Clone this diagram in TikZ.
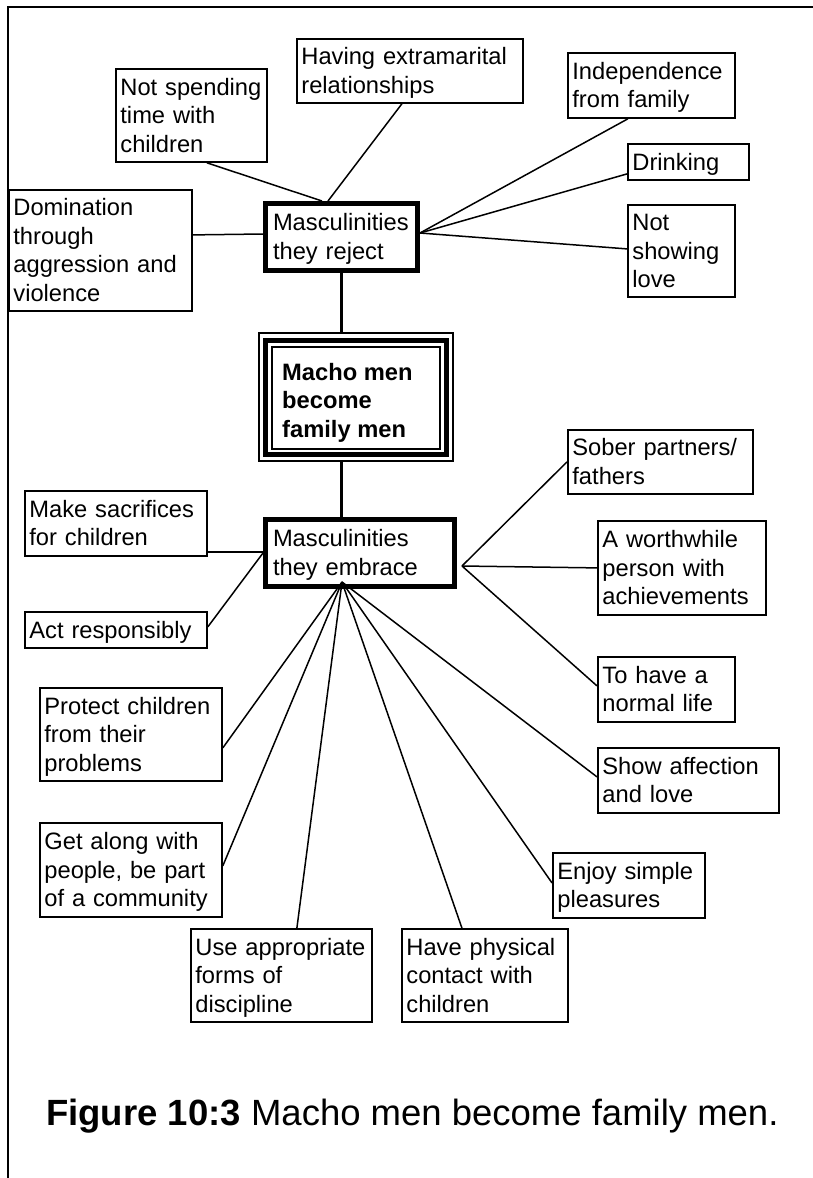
\documentclass[tikz,border=0pt]{standalone}
\usepackage{fontspec}
\setmainfont{Liberation Sans}
\newcommand\tb[1]{\vbox{\kern5pt\hbox{\begin{tabular}{@{}l@{}}#1\end{tabular}}}}
\begin{document}
\begin{tikzpicture}[x=1pt,y=-1pt,
  leaf/.style={draw, line width=1.8pt, anchor=north west, inner xsep=4.5pt, inner ysep=0pt, align=left, font=\fontsize{23.7}{28.5}\selectfont},
  hubbox/.style={leaf, line width=5pt, inner xsep=7.5pt},
  conn/.style={line width=1.5pt},
  spine/.style={line width=3.5pt},
  framebox/.style={line width=2pt}]
\useasboundingbox (0,0) rectangle (813,1178);
\draw[framebox] (813,7) -- (8,7) -- (8,1178);

% rejected
\node[leaf, minimum width=151pt, minimum height=93pt, text width=142pt] (spend) at (115,68) {\tb{Not spending\\time with\\children}};
\node[leaf, minimum width=226pt, minimum height=64pt, text width=217pt] (extra) at (296,38) {\tb{Having extramarital\\relationships}};
\node[leaf, minimum width=167pt, minimum height=65pt, text width=158pt] (indep) at (567,52) {\tb{Independence\\from family}};
\node[leaf, minimum width=121pt, minimum height=36pt, text width=112pt] (drink) at (627,143) {\tb{Drinking}};
\node[leaf, minimum width=107pt, minimum height=92pt, text width=98pt] (notlove) at (627,204) {\tb{Not\\showing\\love}};
\node[leaf, minimum width=183pt, minimum height=121pt, text width=174pt] (domin) at (8,189) {\tb{Domination\\through\\aggression and\\violence}};
\node[hubbox, minimum width=152pt, minimum height=67pt, text width=137pt] (reject) at (263,201) {\tb{Masculinities\\they reject}};

% centre
\node[anchor=north west, minimum width=196pt, minimum height=130pt, outer sep=0pt, inner sep=0pt] (macho) at (258,332) {};
\draw[line width=2pt] ([shift={(1,1)}]macho.north west) rectangle ([shift={(-1,-1)}]macho.south east);
\draw[line width=5pt] ([shift={(7.5,8.5)}]macho.north west) rectangle ([shift={(-8,-7.5)}]macho.south east);
\draw[line width=2pt] ([shift={(14,15)}]macho.north west) rectangle ([shift={(-14.5,-13)}]macho.south east);
\node[anchor=north west, inner sep=0pt, align=left, font=\fontsize{23.7}{28.5}\selectfont\bfseries] (machotxt) at (282,363) {Macho men\\become\\family men};

% embraced
\node[hubbox, minimum width=189pt, minimum height=67pt, text width=174pt] (embrace) at (263,517) {\tb{Masculinities\\they embrace}};
\node[leaf, minimum width=182pt, minimum height=65pt, text width=173pt] (sacr) at (24,490) {\tb{Make sacrifices\\for children}};
\node[leaf, minimum width=182pt, minimum height=36pt, text width=173pt] (actresp) at (24,611) {\tb{Act responsibly}};
\node[leaf, minimum width=185pt, minimum height=64pt, text width=176pt] (sober) at (567,429) {\tb{Sober partners/\\fathers}};
\node[leaf, minimum width=168pt, minimum height=94pt, text width=159pt] (worth) at (597,520) {\tb{A worthwhile\\person with\\achievements}};
\node[leaf, minimum width=137pt, minimum height=65pt, text width=128pt] (normal) at (597,656) {\tb{To have a\\normal life}};
\node[leaf, minimum width=181pt, minimum height=65pt, text width=172pt] (showaff) at (597,747) {\tb{Show affection\\and love}};
\node[leaf, minimum width=182pt, minimum height=93pt, text width=173pt] (protect) at (39,687) {\tb{Protect children\\from their\\problems}};
\node[leaf, minimum width=182pt, minimum height=94pt, text width=173pt] (getalong) at (39,822) {\tb{Get along with\\people, be part\\of a community}};
\node[leaf, minimum width=181pt, minimum height=93pt, text width=172pt] (useapp) at (190,928) {\tb{Use appropriate\\forms of\\discipline}};
\node[leaf, minimum width=166pt, minimum height=93pt, text width=157pt] (physical) at (401,928) {\tb{Have physical\\contact with\\children}};
\node[leaf, minimum width=152pt, minimum height=65pt, text width=143pt] (enjoy) at (552,852) {\tb{Enjoy simple\\pleasures}};

% caption
\node[anchor=base west, inner sep=0pt, font=\fontsize{36.5}{44}\selectfont] (caption) at (46,1125) {\textbf{Figure 10:3} Macho men become family men.};

% connectors: rejected
\coordinate (rejR) at ([yshift=4pt]reject.east);
\draw[conn] ([xshift=15.5pt]spend.south) -- ([xshift=-19.5pt]reject.north);
\draw[conn] ([xshift=-8pt]extra.south) -- ([xshift=-13.5pt]reject.north);
\draw[conn] ([xshift=-23.5pt]indep.south) -- (rejR);
\draw[conn] ([yshift=-12pt]drink.west) -- (rejR);
\draw[conn] (rejR) -- ([yshift=2pt]notlove.west);
\draw[conn] ([yshift=15.5pt]domin.east) -- ([yshift=3pt]reject.west);

% spine
\draw[spine] (reject.south) -- (reject.south |- macho.north);
\draw[spine] (reject.south |- macho.south) -- (reject.south |- embrace.north);

% connectors: embraced
\coordinate (embL) at (embrace.west);
\coordinate (embR) at ([xshift=5pt,yshift=-13pt]embrace.east);
\coordinate (embB) at ([xshift=-18pt,yshift=7pt]embrace.south);
\draw[conn] ([yshift=-28.5pt]sacr.east) -- ([yshift=-28.5pt]sacr.east -| embL);
\draw[conn] ([yshift=3pt]actresp.east) -- (embL);
\draw[conn] (embR) -- (sober.west);
\draw[conn] (embR) -- (worth.west);
\draw[conn] (embR) -- ([yshift=3.5pt]normal.west);
\draw[conn] (embB) -- ([yshift=3.5pt]showaff.west);
\draw[conn] (embB) -- ([yshift=-13.5pt]protect.east);
\draw[conn] (embB) -- ([yshift=4pt]getalong.east);
\draw[conn] (embB) -- ([xshift=15.5pt]useapp.north);
\draw[conn] (embB) -- ([xshift=-23pt]physical.north);
\draw[conn] (embB) -- ([yshift=2.5pt]enjoy.west);
\end{tikzpicture}
\end{document}
